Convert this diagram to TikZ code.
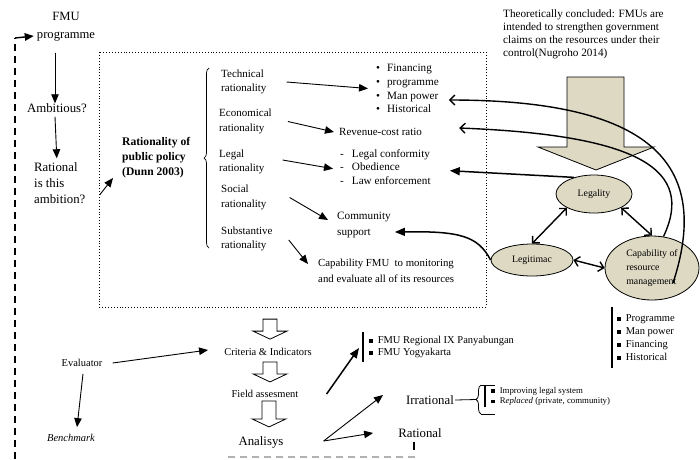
\documentclass[tikz,border=0pt]{standalone}
\usepackage{fontspec}
\setmainfont{Liberation Serif}
\usepackage{tikz}
\usetikzlibrary{arrows.meta, shapes.geometric, decorations.pathreplacing, positioning}

\definecolor{tanfill}{RGB}{221,217,195}
\newcommand{\sqb}{\rule[0.6pt]{3.6pt}{3.6pt}\hspace{5pt}}

\tikzset{
  bigtxt/.style={font=\fontsize{12.8}{16}\selectfont, inner sep=1pt},
  midtxt/.style={font=\fontsize{11}{14.5}\selectfont, inner sep=1pt},
  smalltxt/.style={font=\fontsize{10.5}{13}\selectfont, inner sep=1pt},
  arr/.style={-{Triangle[length=9pt,width=7.5pt]}, line width=0.9pt},
  thickarr/.style={-{Triangle[length=10pt,width=8pt]}, line width=1.5pt},
  barb/.style={-{Straight Barb[length=5pt,width=10pt]}, line width=1.4pt},
  dblbarb/.style={{Straight Barb[length=5pt,width=10pt]}-{Straight Barb[length=5pt,width=10pt]}, line width=1.4pt},
  bubble/.style={ellipse, draw, fill=tanfill, line width=0.8pt, inner sep=0pt, font=\fontsize{9.8}{14}\selectfont},
  loopline/.style={line width=1.8pt, dash pattern=on 7pt off 5pt},
  pics/downblock/.style={code={
    \draw[line width=0.8pt, fill=white] (-7,0) -- (7,0) -- (7,-#1+8) -- (17,-#1+8) -- (0,-#1) -- (-17,-#1+8) -- (-7,-#1+8) -- cycle;}}
}

\begin{document}
\begin{tikzpicture}[x=1pt, y=1pt]
  \useasboundingbox (0,0) rectangle (700,-459);

  % Draw the left column
  \node[bigtxt, align=center, font=\fontsize{12.6}{18}\selectfont] (fmu) at (66,-27) {FMU\\programme};
  \node[bigtxt] (ambi) at (57,-108) {Ambitious?};
  \node[bigtxt, align=left, anchor=west] (ratq) at (33,-183) {Rational\\is this\\ambition?};
  \draw[arr] ([xshift=-11pt,yshift=-10pt]fmu.south) -- ([xshift=-2pt,yshift=-1pt]ambi.north);
  \draw[arr] ([xshift=-2pt,yshift=-3pt]ambi.south) -- ([xshift=-3pt,yshift=3pt]ratq.north);

  % Draw the frame of public policy rationality
  \draw[dotted, line width=0.9pt] (99,-52) rectangle (486,-307);
  \node[midtxt, align=left, anchor=west, font=\bfseries\fontsize{11.6}{15}\selectfont] (dunn) at (121,-158) {Rationality of\\public policy\\(Dunn 2003)};
  \draw[arr] ([xshift=13pt,yshift=-12pt]ratq.east) -- ([xshift=-8pt,yshift=-20pt]dunn.west);
  \draw[decorate, decoration={brace, amplitude=5pt}, line width=0.7pt] (209,-248) -- (209,-68);

  % Draw the rationalities
  \node[midtxt, align=left, anchor=west] (tech) at (220,-82) {Technical\\rationality};
  \node[midtxt, align=left, anchor=west] (econ) at (218,-121.5) {Economical\\rationality};
  \node[midtxt, align=left, anchor=west] (legal) at (218,-162) {Legal\\rationality};
  \node[midtxt, align=left, anchor=west] (social) at (220,-197.5) {Social\\rationality};
  \node[midtxt, align=left, anchor=west] (subst) at (220,-239) {Substantive\\rationality};

  % Draw what each rationality looks at
  \node[midtxt, align=left, anchor=west, font=\fontsize{11.2}{13.7}\selectfont] (bul) at (375,-88.5)
    {\textbullet\hspace{7pt}Financing\\\textbullet\hspace{7pt}programme\\\textbullet\hspace{7pt}Man power\\\textbullet\hspace{7pt}Historical};
  \node[midtxt, anchor=west] (rev) at (338,-132) {Revenue-cost ratio};
  \node[midtxt, align=left, anchor=west, font=\fontsize{11.2}{13.5}\selectfont] (dash) at (339,-166.7)
    {-\hspace{8pt}Legal conformity\\-\hspace{8pt}Obedience\\-\hspace{8pt}Law enforcement};
  \node[midtxt, align=left, anchor=west, font=\fontsize{11.2}{16}\selectfont] (comm) at (336,-225) {Community\\support};
  \node[midtxt, align=left, anchor=west, font=\fontsize{10.8}{16}\selectfont] (capfmu) at (317,-271)
    {Capability FMU\ \ to monitoring\\and evaluate all of its resources};

  \draw[arr] ([xshift=19pt]tech.east) -- ([xshift=-7pt]bul.west);
  \draw[arr] ([xshift=15pt]econ.east) -- ([xshift=-4pt]rev.west);
  \draw[arr] ([xshift=17pt,yshift=2pt]legal.east) -- ([xshift=-6pt,yshift=-2pt]dash.west);
  \draw[arr] ([xshift=22pt]social.east) -- ([xshift=-8pt,yshift=5pt]comm.west);
  \draw[arr] ([xshift=15pt,yshift=-1pt]subst.east) -- ([xshift=-9pt,yshift=-6pt]capfmu.north west);

  % Draw the theoretical conclusion
  \node[midtxt, align=left, anchor=west, font=\fontsize{11.2}{13}\selectfont] (theory) at (502,-34.5)
    {Theoretically concluded: FMUs are\\intended to strengthen government\\claims on the resources under their\\control(Nugroho 2014)};
  \draw[line width=0.8pt, fill=tanfill] (567,-77) -- (624,-77) -- (624,-147) -- (654,-147) -- (596,-170) -- (538,-147) -- (567,-147) -- cycle;

  % Draw the three bubbles
  \node[bubble, minimum width=76pt, minimum height=38pt] (legality) at (594,-194) {Legality};
  \node[bubble, minimum width=82pt, minimum height=32pt] (legit) at (532,-260) {Legitimac};
  \node[bubble, minimum width=94pt, minimum height=64pt, align=left] (capab) at (652,-268) {Capability of\\resource\\management};
  \draw[dblbarb] (legality.south west) -- (legit.north);
  \draw[dblbarb] (legality.south east) -- (capab.north);
  \draw[dblbarb] (legit.east) -- (capab.west);

  % Draw the feedback to the rationalities
  \draw[thickarr] (legality.140) -- ([xshift=18pt,yshift=-4pt]dash.east);
  \draw[thickarr] (legit.west) .. controls (478,-236) and (460,-231) .. ([xshift=3pt,yshift=-7pt]comm.east);
  \draw[barb] ([xshift=21pt,yshift=-15pt]capab.center) .. controls (710,-170) and (660,-100) .. ([xshift=9pt,yshift=-11.5pt]bul.east);
  \draw[barb] (capab.70) .. controls (695,-170) and (640,-135) .. ([xshift=36pt,yshift=4pt]rev.east);

  % Draw the resource list
  \node[smalltxt, align=left, anchor=west, inner xsep=5pt, inner ysep=7pt] (res) at (612,-337.5)
    {\sqb Programme\\\sqb Man power\\\sqb Financing\\\sqb Historical};
  \draw[line width=1.6pt] (res.north west) -- (res.south west);

  % Draw the evaluation steps
  \node[smalltxt] (crit) at (268,-352) {Criteria \& Indicators};
  \node[smalltxt] (field) at (265,-394) {Field assesment};
  \node[bigtxt] (analy) at (261,-442) {Analisys};
  \pic at ([xshift=2pt,yshift=28pt]crit.north) {downblock=20};
  \pic at ([xshift=2pt,yshift=-5pt]crit.south) {downblock=20};
  \pic at ([xshift=4pt,yshift=-2pt]field.south) {downblock=26};

  \node[smalltxt] (eval) at (82,-363) {Evaluator};
  \node[smalltxt, font=\itshape\fontsize{10.5}{13}\selectfont] (bench) at (71,-438) {Benchmark};
  \draw[arr] ([xshift=9pt]eval.east) -- ([xshift=-15pt,yshift=2pt]crit.west);
  \draw[arr] ([xshift=1pt,yshift=-6pt]eval.south) -- ([xshift=6pt,yshift=6pt]bench.north);

  % Draw the study sites
  \node[smalltxt, align=left, anchor=west, inner xsep=6pt, inner ysep=4pt, font=\fontsize{10.5}{12}\selectfont] (fmulist) at (363,-347)
    {\sqb FMU Regional IX Panyabungan\\\sqb FMU Yogyakarta};
  \draw[line width=1.6pt] (fmulist.north west) -- (fmulist.south west);
  \draw[thickarr] ([xshift=27pt]field.east) -- ([xshift=-4pt,yshift=-1pt]fmulist.west);

  % Draw the results of the analysis
  \coordinate (fork) at ([xshift=39pt,yshift=1pt]analy.east);
  \node[bigtxt] (irr) at (430,-400) {Irrational};
  \node[bigtxt] (rat) at (420,-433) {Rational};
  \draw[arr] (fork) -- ([xshift=-22pt,yshift=5pt]irr.west);
  \draw[arr] (fork) -- ([xshift=-24pt]rat.west);

  \node[smalltxt, align=left, anchor=west, inner xsep=6pt, inner ysep=1pt, font=\fontsize{8.8}{10.5}\selectfont] (irrlist) at (485,-396.5)
    {\sqb Improving legal system\\\sqb R\textit{eplaced} (private, community)};
  \draw[line width=1.6pt] (irrlist.north west) -- (irrlist.south west);
  \draw[decorate, decoration={brace, amplitude=5pt}, line width=0.8pt] ([xshift=-4pt,yshift=-7pt]irrlist.south west) -- ([xshift=-4pt,yshift=1pt]irrlist.north west);
  \draw[line width=0.8pt] ([xshift=-4pt,yshift=-7pt]irrlist.south west) -- ++(14,0);
  \draw[line width=0.8pt] ([xshift=-4pt,yshift=1pt]irrlist.north west) -- ++(14,0);
  \draw[line width=0.8pt] (irr.east) -- ([xshift=-9pt,yshift=-3pt]irrlist.west);

  % Draw the feedback loop
  \coordinate (looptop) at (15,-38);
  \draw[loopline] (15,-459) -- (looptop);
  \draw[arr, line width=1.4pt] (looptop) -- ([xshift=-2pt,yshift=-9pt]fmu.west);
  \draw[line width=2pt] ([xshift=-6pt,yshift=-3pt]rat.south) -- ([xshift=-6pt,yshift=-11pt]rat.south);
  \draw[gray!60, line width=1.2pt, dash pattern=on 7pt off 5pt] (228,-457) -- (418,-457);
\end{tikzpicture}
\end{document}
